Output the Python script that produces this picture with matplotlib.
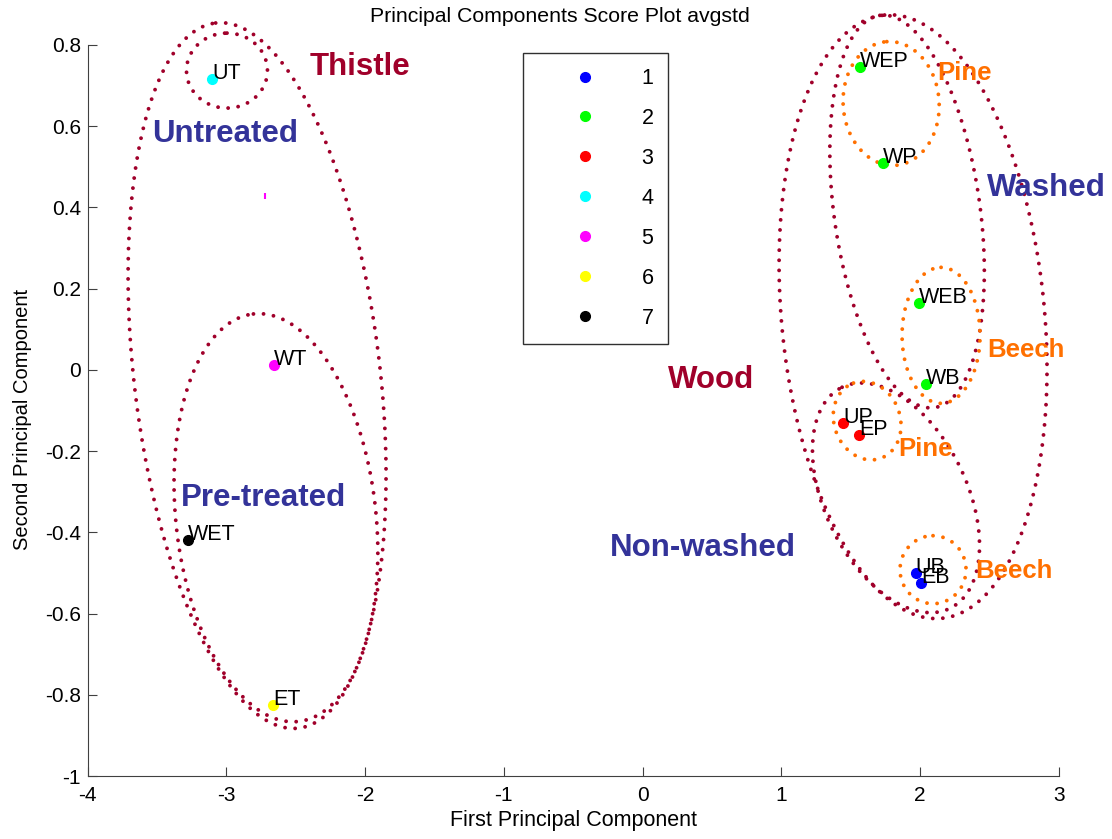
import numpy as np
import matplotlib.pyplot as plt

plt.rcParams['font.family'] = ['Liberation Sans', 'DejaVu Sans']
plt.rcParams['axes.unicode_minus'] = False

# PCA scores of the samples
names = ['UB', 'EB', 'WEP', 'WP', 'WEB', 'WB', 'UP', 'EP', 'UT', 'WT', 'ET', 'WET']
pc1 = [1.970, 2.010, 1.568, 1.732, 1.991, 2.042, 1.448, 1.561,
       -3.104, -2.657, -2.664, -3.277]
pc2 = [-0.499, -0.525, 0.747, 0.510, 0.165, -0.034, -0.131, -0.160,
       0.717, 0.013, -0.824, -0.418]
group = [1, 1, 2, 2, 2, 2, 3, 3, 4, 5, 6, 7]
group_ids = [1, 2, 3, 4, 5, 6, 7]
group_colors = ['#0000FF', '#00FF00', '#FF0000', '#00FFFF', '#FF00FF', '#FFFF00', '#000000']

# stray group-5 mark
stray_x = [-2.72]
stray_y = [0.428]

xticks = [-4, -3, -2, -1, 0, 1, 2, 3]
yticks = [-1, -0.8, -0.6, -0.4, -0.2, 0, 0.2, 0.4, 0.6, 0.8]

# group annotations
ann_text = ['Thistle', 'Untreated', 'Pre-treated', 'Wood', 'Non-washed', 'Washed',
            'Pine', 'Beech', 'Pine', 'Beech']
ann_x = [-2.397, -3.536, -3.327, 0.184, -0.234, 2.484, 2.123, 2.484, 1.842, 2.397]
ann_y = [0.745, 0.582, -0.315, -0.026, -0.438, 0.449, 0.732, 0.050, -0.196, -0.494]
ann_kind = ['cls', 'trt', 'trt', 'cls', 'trt', 'trt', 'spc', 'spc', 'spc', 'spc']

DARKRED = '#A0002A'
ORANGE = '#FF7000'
BLUE = '#333399'
kind_color = {'cls': DARKRED, 'trt': BLUE, 'spc': ORANGE}
kind_size = {'cls': 22.5, 'trt': 22.5, 'spc': 18.5}

# enclosing ellipses: centre (data), semi-axes along/across the tilted axis (px),
# tilt of the long axis from vertical (deg, top leaning left)
ell_cx = [-2.779, -2.996, -2.643, 1.950, 1.907, 1.827, 1.792, 2.152, 1.619, 2.094]
ell_cy = [-0.014, 0.737, -0.364, 0.131, 0.390, -0.315, 0.656, 0.085, -0.125, -0.492]
ell_a = [355, 37.5, 205, 303, 198, 123, 62, 68, 40, 34]
ell_b = [123, 40.5, 100, 131.5, 73, 71, 48, 39, 33, 33]
ell_tilt = [6.7, 0, 6.3, 5.4, 7.9, 26, 4, 0, 20, 0]
ell_color = [DARKRED] * 6 + [ORANGE] * 4

W, H = 1112, 839
fig = plt.figure(figsize=(W / 100, H / 100), dpi=100)
ax = fig.add_axes([87.7 / W, 63 / H, 971 / W, 731 / H])
ax.set_xlim(-4, 3)
ax.set_ylim(-1, 0.8)

# pixels per data unit
sx = 971 / 7.0
sy = 731 / 1.8


def dotted_ellipse(ax, cx, cy, a, b, tilt, color):
    t = np.linspace(0, 2 * np.pi, 600)
    th = np.radians(tilt)
    ux, uy = -np.sin(th), np.cos(th)
    vx, vy = np.cos(th), np.sin(th)
    px = a * np.cos(t) * ux + b * np.sin(t) * vx
    py = a * np.cos(t) * uy + b * np.sin(t) * vy
    ax.plot(cx + px / sx, cy + py / sy, color=color, linewidth=2.8,
            linestyle=(0, (0.001, 2.6)), dash_capstyle='round',
            clip_on=False, zorder=2)


for i in range(len(ell_cx)):
    dotted_ellipse(ax, ell_cx[i], ell_cy[i], ell_a[i], ell_b[i], ell_tilt[i], ell_color[i])

pc1 = np.array(pc1)
pc2 = np.array(pc2)
group = np.array(group)
for g, c in zip(group_ids, group_colors):
    m = group == g
    ax.plot(pc1[m], pc2[m], linestyle='none', marker='o', markersize=7,
            markerfacecolor=c, markeredgecolor=c, label=str(g), zorder=3)
ax.plot(stray_x, stray_y, linestyle='none', marker='|', markersize=5,
        markeredgewidth=1.5, color=group_colors[4], zorder=3)

for n, x, y in zip(names, pc1, pc2):
    ax.text(x, y, n, fontsize=15.5, ha='left', va='baseline', zorder=4)

for s, x, y, k in zip(ann_text, ann_x, ann_y, ann_kind):
    ax.text(x, y, s, fontsize=kind_size[k], fontweight='bold', color=kind_color[k],
            ha='left', va='center', zorder=4)

ax.spines['top'].set_visible(False)
ax.spines['right'].set_visible(False)
for s in ['left', 'bottom']:
    ax.spines[s].set_color('#404040')
ax.set_xticks(xticks)
ax.set_yticks(yticks)
ax.set_xticklabels(['%g' % v for v in xticks])
ax.set_yticklabels(['%g' % v for v in yticks])
ax.tick_params(direction='in', length=6.5, color='#404040', labelsize=15)
ax.tick_params(axis='x', pad=7)
ax.tick_params(axis='y', pad=5)
ax.set_xlabel('First Principal Component', fontsize=15.5, labelpad=4)
ax.set_ylabel('Second Principal Component', fontsize=14.5)
ax.yaxis.set_label_coords(-0.057, 0.488)

fig.text(560 / W, 1 - 17 / H, 'Principal Components Score Plot avgstd',
         fontsize=15.3, ha='center', va='center')

leg = ax.legend(loc='upper left', bbox_to_anchor=(523 / W, 1 - 53 / H),
                bbox_transform=fig.transFigure, borderaxespad=0, fancybox=False,
                framealpha=1, edgecolor='#303030', fontsize=15.5, numpoints=1,
                borderpad=0.7, handlelength=4.4, handletextpad=0.4, labelspacing=0.88)
leg.get_frame().set_linewidth(1.0)

fig.savefig('out.png', dpi=100)
